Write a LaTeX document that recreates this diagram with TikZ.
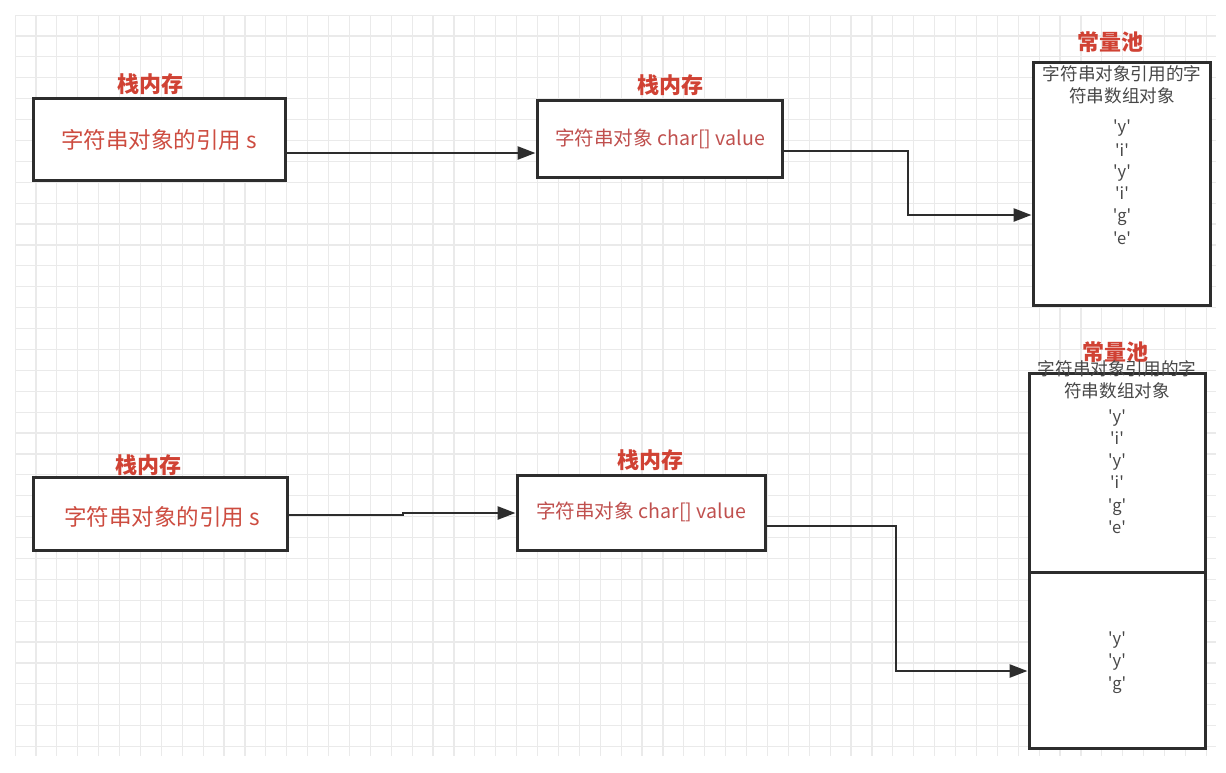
\documentclass[tikz,border=0pt]{standalone}
\usepackage{fontspec}
\newfontfamily\cjk{Noto Sans CJK SC}[Ligatures=ResetAll]
\usetikzlibrary{arrows.meta}
\definecolor{lblred}{RGB}{208,66,52}
\definecolor{txtred}{RGB}{205,76,64}
\definecolor{midred}{RGB}{192,80,78}
\definecolor{pooltxt}{RGB}{72,72,72}
\definecolor{gridc}{RGB}{234,234,234}
\definecolor{edge}{RGB}{45,45,45}
\tikzset{
  box/.style={draw=edge, line width=3pt, fill=white, inner sep=0pt},
  lbl/.style={text=lblred, font=\cjk\bfseries\fontsize{22}{24}\selectfont, inner sep=0pt},
  reftxt/.style={text=txtred, font=\cjk\fontsize{22.5}{24}\selectfont, inner sep=0pt},
  midtxt/.style={text=midred, font=\cjk\fontsize{19.6}{22}\selectfont, inner sep=0pt},
  pooltext/.style={text=pooltxt, font=\cjk\fontsize{17.6}{22}\selectfont, inner sep=0pt, align=center},
  chr/.style={text=pooltxt, font=\cjk\fontsize{16.5}{18}\selectfont, inner sep=0pt},
  conn/.style={draw=edge, line width=2.6pt, -{Triangle[length=18pt,width=13pt]}},
}
\begin{document}
\begin{tikzpicture}[x=1pt,y=-1pt]
\useasboundingbox (0,0) rectangle (1226,772);
\fill[white] (0,0) rectangle (1226,772);
% grid
\begin{scope}
\clip (15,15) rectangle (1216,756);
\foreach \i in {0,...,58} {\draw[gridc, line width=1.2pt] ({15+\i*20.9},15) -- ({15+\i*20.9},756);}
\foreach \j in {0,...,36} {\draw[gridc, line width=1.2pt] (15,{15+\j*20.9}) -- (1216,{15+\j*20.9});}
\end{scope}

% ---------- top row ----------
\node[box, minimum width=252pt, minimum height=82pt] (ref1) at (159,139) {};
\node[reftxt] (ref1t) at (159,140) {字符串对象的引用 s};
\node[lbl] (ref1l) at (150,84) {栈内存};

\node[box, minimum width=245pt, minimum height=77pt] (obj1) at (659.5,138.5) {};
\node[midtxt] (obj1t) at (660,139) {字符串对象 char[] value};
\node[lbl] (obj1l) at (670,85) {栈内存};

\node[box, minimum width=177pt, minimum height=243pt] (pool1) at (1121.5,183.5) {};
\node[lbl] (pool1l) at (1110,42) {常量池};
\node[pooltext] (pool1t) at (1122,85) {字符串对象引用的字\\符串数组对象};
\node[chr] (p1c1) at (1122,128) {'y'};
\node[chr] (p1c2) at (1122,150) {'i'};
\node[chr] (p1c3) at (1122,173) {'y'};
\node[chr] (p1c4) at (1122,193) {'i'};
\node[chr] (p1c5) at (1122,217) {'g'};
\node[chr] (p1c6) at (1122,238) {'e'};

\draw[conn] (ref1.east |- 0,153) -- (obj1.west |- 0,153);
\coordinate (b1) at (908,151);
\draw[conn] (obj1.east |- 0,151) -- (b1) -- (908,215) -- (pool1.west |- 0,215);

% ---------- bottom row ----------
\node[box, minimum width=254pt, minimum height=73pt] (ref2) at (160,513.5) {};
\node[reftxt] (ref2t) at (162,517) {字符串对象的引用 s};
\node[lbl] (ref2l) at (148,465) {栈内存};

\node[box, minimum width=248pt, minimum height=75pt] (obj2) at (641,512.5) {};
\node[midtxt] (obj2t) at (641,512) {字符串对象 char[] value};
\node[lbl] (obj2l) at (650,460) {栈内存};

\node[box, minimum width=176pt, minimum height=199pt] (pool2a) at (1117,472.5) {};
\node[box, minimum width=176pt, minimum height=176pt] (pool2b) at (1117,660) {};
\node[lbl] (pool2l) at (1115,352) {常量池};
\node[pooltext] (pool2t) at (1117,380) {字符串对象引用的字\\符串数组对象};
\node[chr] (p2c1) at (1117,418) {'y'};
\node[chr] (p2c2) at (1117,438) {'i'};
\node[chr] (p2c3) at (1117,462) {'y'};
\node[chr] (p2c4) at (1117,482) {'i'};
\node[chr] (p2c5) at (1117,507) {'g'};
\node[chr] (p2c6) at (1117,527) {'e'};
\node[chr] (p2d1) at (1117,640) {'y'};
\node[chr] (p2d2) at (1117,662) {'y'};
\node[chr] (p2d3) at (1117,685) {'g'};

\coordinate (s1) at (403,515);
\coordinate (s2) at (403,513);
\draw[conn] (ref2.east |- 0,515) -- (s1) -- (s2) -- (obj2.west |- 0,513);
\coordinate (b2) at (896,526);
\draw[conn] (obj2.east |- 0,526) -- (b2) -- (896,671) -- (pool2b.west |- 0,671);
\end{tikzpicture}
\end{document}
